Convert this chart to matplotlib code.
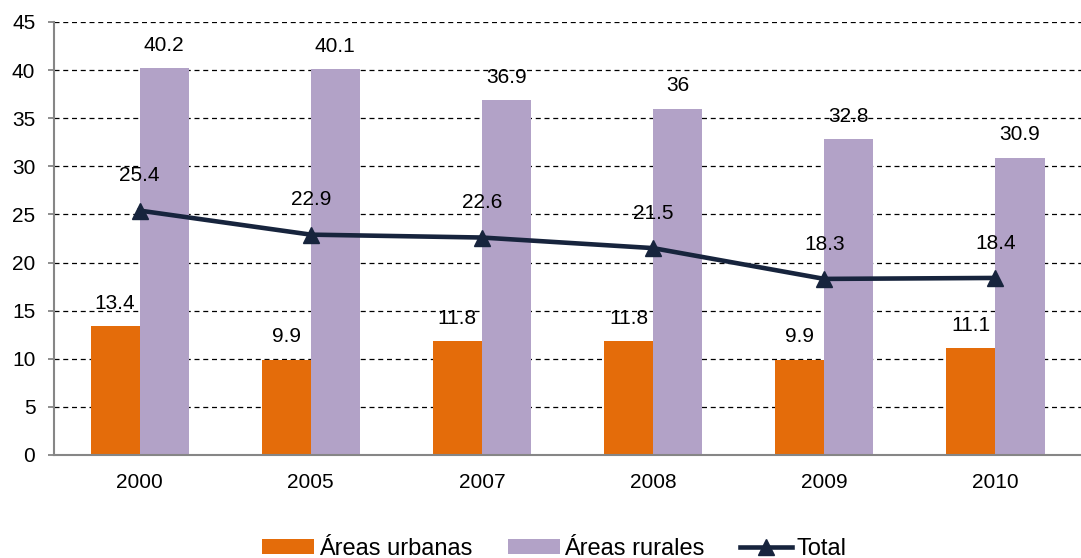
import matplotlib
matplotlib.use("Agg")
import matplotlib.pyplot as plt
import numpy as np

plt.rcParams['font.family'] = ['Liberation Sans', 'DejaVu Sans']

years = ["2000", "2005", "2007", "2008", "2009", "2010"]
urbanas = [13.4, 9.9, 11.8, 11.8, 9.9, 11.1]
rurales = [40.2, 40.1, 36.9, 36, 32.8, 30.9]
total = [25.4, 22.9, 22.6, 21.5, 18.3, 18.4]
urb_labels = ["13.4", "9.9", "11.8", "11.8", "9.9", "11.1"]
rur_labels = ["40.2", "40.1", "36.9", "36", "32.8", "30.9"]
tot_labels = ["25.4", "22.9", "22.6", "21.5", "18.3", "18.4"]

c_urb = "#E46C0A"
c_rur = "#B2A2C7"
c_tot = "#17243D"

fig = plt.figure(figsize=(10.81, 5.58), dpi=100)
ax = fig.add_axes([0.050, 0.1846, 0.950, 0.776])

x = np.arange(len(years))
w = 0.287
b1 = ax.bar(x - w/2, urbanas, w, color=c_urb, label="Áreas urbanas", zorder=2)
b2 = ax.bar(x + w/2, rurales, w, color=c_rur, label="Áreas rurales", zorder=2)
l1, = ax.plot(x, total, color=c_tot, lw=3.3, marker="^", ms=12, label="Total", zorder=3)

fs = 15
for i in range(len(years)):
    ax.annotate(urb_labels[i], (x[i] - w/2, urbanas[i]), xytext=(0, 16.5), textcoords="offset points",
                ha="center", va="center", fontsize=fs)
    ax.annotate(rur_labels[i], (x[i] + w/2, rurales[i]), xytext=(0, 16.5), textcoords="offset points",
                ha="center", va="center", fontsize=fs)
    ax.annotate(tot_labels[i], (x[i], total[i]), xytext=(0, 25), textcoords="offset points",
                ha="center", va="center", fontsize=fs)

ax.set_xlim(-0.5, len(years) - 0.5)
ax.set_ylim(0, 45)
ax.set_yticks(np.arange(0, 46, 5))
ax.set_xticks(x)
ax.set_xticklabels(years)
ax.tick_params(axis='x', length=0, labelsize=fs, pad=13)
ax.tick_params(axis='y', length=4.5, width=1.3, color="#868686", labelsize=fs, pad=9)
ax.yaxis.grid(True, linestyle=(0, (4, 3)), color="black", lw=0.9, zorder=0)
ax.set_axisbelow(True)
for s in ["top", "right"]:
    ax.spines[s].set_visible(False)
for s in ["left", "bottom"]:
    ax.spines[s].set_color("#868686")
    ax.spines[s].set_linewidth(1.5)

fig.legend(handles=[b1, b2, l1], labels=["Áreas urbanas", "Áreas rurales", "Total"],
           loc="center", bbox_to_anchor=(0.513, 0.016), ncol=3, frameon=False,
           fontsize=17, handlelength=2.2, handletextpad=0.2, columnspacing=1.5,
           handleheight=0.6, borderpad=0)

fig.savefig("out.png", dpi=100)
